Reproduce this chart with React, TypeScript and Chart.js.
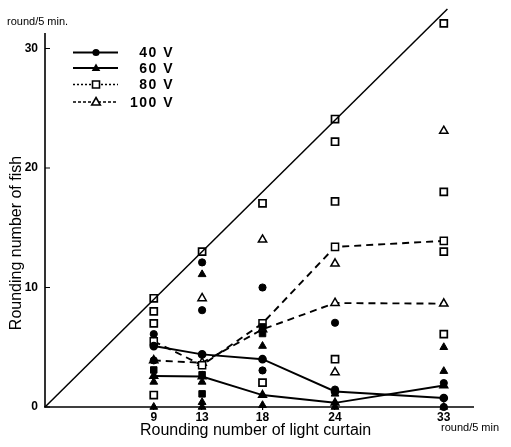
import React, { useEffect, useRef } from "react";
import { Chart, registerables } from "chart.js";
Chart.register(...registerables);

// curtain rounds (x) and y tick values
const xTicks = [9, 13, 18, 24, 33];
const yTicks = [0, 10, 20, 30];

// mean lines per voltage, one value per curtain round
const mean40 = [5.1, 4.4, 4.0, 1.3, 0.75];
const mean60 = [2.6, 2.55, 1.0, 0.35, 1.8];
const mean80 = [5.5, 3.5, 7.0, 13.4, 13.9];
const mean100 = [3.9, 3.7, 6.5, 8.7, 8.65];

// individual fish [curtain round, fish round]
const pts40 = [[9, 6.1], [9, 3.9], [13, 12.1], [13, 8.1], [18, 10.0], [18, 3.06], [24, 7.05], [24, 1.46], [33, 2.0], [33, 0]];
const pts60 = [[9, 2.1], [9, 0], [13, 11.1], [13, 2.1], [13, 0.4], [13, 0], [18, 5.1], [18, 0.15], [24, 1.1], [24, 0], [33, 5.0], [33, 3.0], [33, 0]];
const pts80 = [[9, 9.1], [9, 8.0], [9, 7.0], [9, 1.0], [13, 13.0], [18, 17.05], [18, 2.04], [24, 24.1], [24, 22.2], [24, 17.2], [24, 4.0], [33, 32.1], [33, 18.0], [33, 13.0], [33, 6.1]];
const pts100 = [[13, 9.1], [18, 14.0], [24, 12.0], [24, 2.9], [33, 23.1]];
const ptsDense = [[9, 3.1], [13, 2.7], [13, 1.1], [18, 6.7], [18, 6.15]];
const diagonal = [[0, 0], [33.3, 33.3]];

const legendItems = [
  { label: "40 V", style: "circle", dash: [] as number[] },
  { label: "60 V", style: "triangle", dash: [] as number[] },
  { label: "80 V", style: "rectOpen", dash: [2, 2] },
  { label: "100 V", style: "triangleOpen", dash: [3, 2] },
];

const toXY = (arr: number[][]) => arr.map(([x, y]) => ({ x, y }));
const meanXY = (arr: number[]) => arr.map((y, i) => ({ x: xTicks[i], y }));

function drawMarker(ctx: CanvasRenderingContext2D, style: string, x: number, y: number) {
  ctx.save();
  ctx.setLineDash([]);
  ctx.lineWidth = 1.6;
  ctx.strokeStyle = "#000";
  ctx.fillStyle = "#000";
  ctx.beginPath();
  if (style === "circle") {
    ctx.arc(x, y, 3.6, 0, Math.PI * 2);
    ctx.fill();
  } else if (style === "triangle" || style === "triangleOpen") {
    ctx.moveTo(x, y - 4.5);
    ctx.lineTo(x + 4.3, y + 3);
    ctx.lineTo(x - 4.3, y + 3);
    ctx.closePath();
    if (style === "triangle") ctx.fill();
    else {
      ctx.fillStyle = "#fff";
      ctx.fill();
      ctx.stroke();
    }
  } else {
    ctx.rect(x - 3.5, y - 3.5, 7, 7);
    ctx.fillStyle = "#fff";
    ctx.fill();
    ctx.stroke();
  }
  ctx.restore();
}

const decorPlugin = {
  id: "decor",
  beforeDatasetsDraw(chart: any) {
    const ctx: CanvasRenderingContext2D = chart.ctx;
    const xs = chart.scales.x;
    const ys = chart.scales.y;
    ctx.save();
    ctx.strokeStyle = "#000";
    ctx.lineWidth = 1.6;
    ctx.beginPath();
    const y0 = ys.getPixelForValue(0);
    const x0 = xs.getPixelForValue(0);
    ctx.moveTo(x0 - 1, y0);
    ctx.lineTo(xs.getPixelForValue(35.5), y0);
    ctx.moveTo(x0, y0);
    ctx.lineTo(x0, ys.getPixelForValue(31.3));
    ctx.stroke();
    ctx.lineWidth = 1.2;
    ctx.beginPath();
    yTicks.forEach((v) => {
      const p = ys.getPixelForValue(v);
      ctx.moveTo(x0, p);
      ctx.lineTo(x0 + 5, p);
    });
    ctx.stroke();
    ctx.restore();
  },
  afterDraw(chart: any) {
    const ctx: CanvasRenderingContext2D = chart.ctx;
    ctx.save();
    ctx.fillStyle = "#000";
    // axis titles
    ctx.font = "16px Arial";
    ctx.textAlign = "left";
    ctx.textBaseline = "middle";
    ctx.fillText("Rounding number of light curtain", 140, 431);
    ctx.save();
    ctx.translate(17, 243);
    ctx.rotate(-Math.PI / 2);
    ctx.textAlign = "center";
    ctx.fillText("Rounding number of fish", 0, 0);
    ctx.restore();
    ctx.font = "11px Arial";
    ctx.textAlign = "left";
    ctx.fillText("round/5 min.", 7, 22);
    ctx.fillText("round/5 min", 441, 428);
    // legend
    const rows = [52.5, 68, 84.5, 102];
    legendItems.forEach((it, i) => {
      const y = rows[i];
      ctx.save();
      ctx.strokeStyle = "#000";
      ctx.lineWidth = it.dash.length ? 1.4 : 1.8;
      ctx.setLineDash(it.dash);
      ctx.beginPath();
      ctx.moveTo(73, y);
      ctx.lineTo(118, y);
      ctx.stroke();
      ctx.restore();
      drawMarker(ctx, it.style, 96, y);
      ctx.save();
      ctx.font = "bold 14px Arial";
      (ctx as any).letterSpacing = "1.5px";
      ctx.textAlign = "right";
      ctx.textBaseline = "middle";
      ctx.fillText(it.label, 174, y + 1);
      ctx.restore();
    });
    ctx.restore();
  },
};

export default function App() {
  const ref = useRef<HTMLCanvasElement>(null);
  useEffect(() => {
    if (!ref.current) return;
    const black = "#000";
    const scatter = (data: any[], style: string, radius: number, fill: string, bw: number) => ({
      type: "scatter" as const,
      data,
      showLine: false,
      pointStyle: style,
      pointRadius: radius,
      pointBackgroundColor: fill,
      pointBorderColor: black,
      pointBorderWidth: bw,
      clip: false as const,
    });
    const meanLine = (data: any[], style: string, radius: number, fill: string, dash: number[]) => ({
      type: "line" as const,
      data,
      borderColor: black,
      borderWidth: 1.9,
      borderDash: dash,
      pointStyle: style,
      pointRadius: radius,
      pointBackgroundColor: fill,
      pointBorderColor: black,
      pointBorderWidth: 1.5,
      tension: 0,
      fill: false,
      clip: false as const,
    });
    const chart = new Chart(ref.current, {
      type: "scatter",
      data: {
        datasets: [
          {
            type: "line",
            data: toXY(diagonal),
            borderColor: black,
            borderWidth: 1.5,
            pointRadius: 0,
            fill: false,
            clip: false,
          } as any,
          scatter(toXY(pts40), "circle", 3.6, black, 1),
          scatter(toXY(pts60), "triangle", 4.5, black, 1),
          scatter(toXY(pts80), "rect", 5, "#fff", 1.7),
          scatter(toXY(pts100), "triangle", 4.8, "#fff", 1.5),
          scatter(toXY(ptsDense), "rect", 4.6, black, 1),
          meanLine(meanXY(mean40), "circle", 3.6, black, []),
          meanLine(meanXY(mean60), "triangle", 4.5, black, []),
          meanLine(meanXY(mean80), "rect", 5, "#fff", [7, 5]),
          meanLine(meanXY(mean100), "triangle", 4.8, "#fff", [7, 5]),
        ] as any,
      },
      options: {
        animation: false,
        responsive: false,
        layout: { padding: { left: 0, top: 3, right: 37, bottom: 0 } },
        plugins: { legend: { display: false }, tooltip: { enabled: false } },
        scales: {
          x: {
            type: "linear",
            min: 0,
            max: 35.5,
            afterBuildTicks: (s: any) => {
              s.ticks = xTicks.map((v) => ({ value: v }));
            },
            afterFit: (s: any) => {
              s.height = 40;
              s.paddingLeft = 0;
              s.paddingRight = 0;
            },
            grid: { display: true, drawOnChartArea: false, drawTicks: true, tickLength: 3, color: black, lineWidth: 1.2 },
            border: { display: false },
            ticks: { color: black, font: { family: "Arial", size: 12, weight: "bold" }, padding: 0, maxRotation: 0, autoSkip: false },
          },
          y: {
            type: "linear",
            min: 0,
            max: 33.5,
            afterBuildTicks: (s: any) => {
              s.ticks = yTicks.map((v) => ({ value: v }));
            },
            afterFit: (s: any) => {
              s.width = 45;
              s.paddingTop = 0;
              s.paddingBottom = 0;
            },
            grid: { display: false, drawTicks: false },
            border: { display: false },
            ticks: { color: black, font: { family: "Arial", size: 12, weight: "bold" }, padding: 7 },
          },
        },
      },
      plugins: [decorPlugin],
    } as any);
    return () => chart.destroy();
  }, []);
  return (
    <div style={{ position: "absolute", left: 0, top: 0, width: 511, height: 447, background: "#fff" }}>
      <canvas ref={ref} width={511} height={447} style={{ display: "block" }} />
    </div>
  );
}
